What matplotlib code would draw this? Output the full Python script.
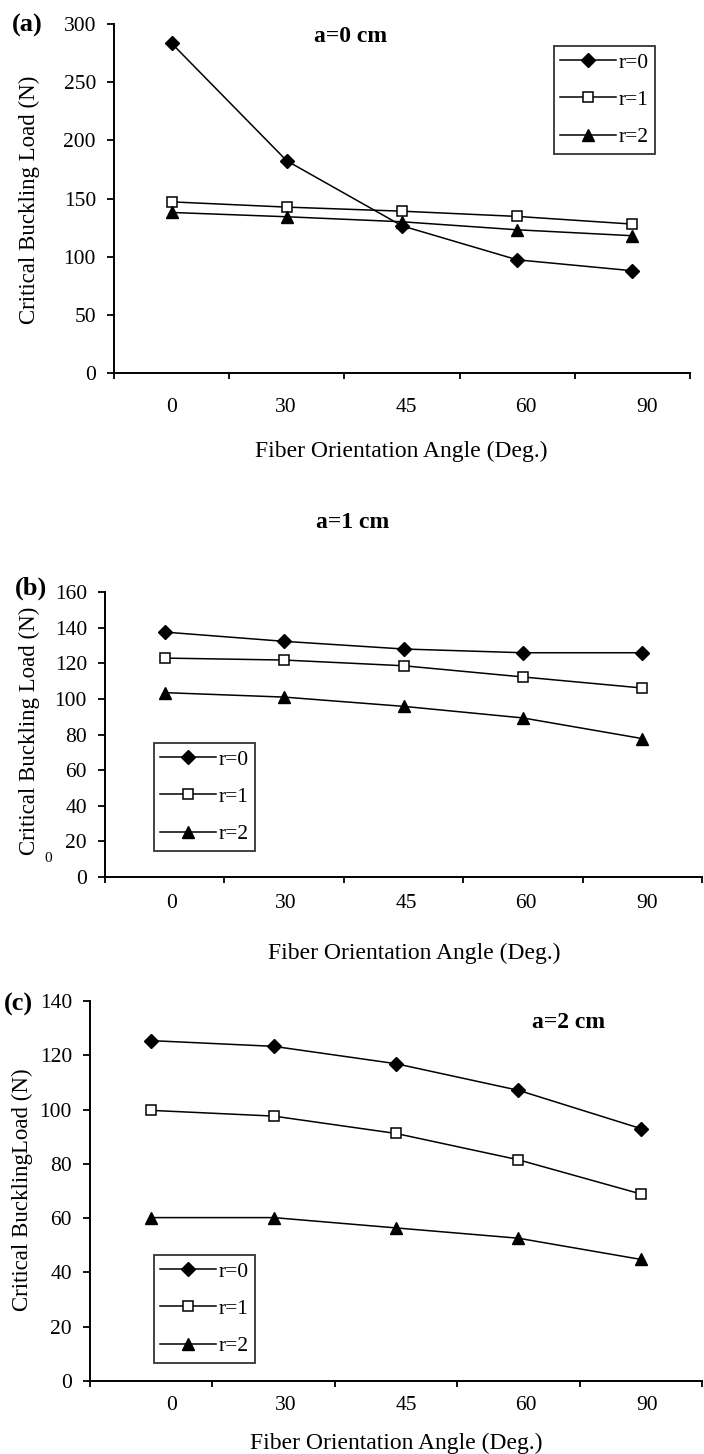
import numpy as np
import matplotlib
matplotlib.use("Agg")
import matplotlib.pyplot as plt

plt.rcParams["font.family"] = "serif"
plt.rcParams["font.serif"] = ["Liberation Serif", "DejaVu Serif"]
plt.rcParams["mathtext.fontset"] = "stix"

# fiber orientation angles (categories) and buckling loads in N
angles = ["0", "30", "45", "60", "90"]
series_names = ["r=0", "r=1", "r=2"]

load_a0 = {
    "r=0": [283.4, 182.4, 126.5, 97.3, 87.9],
    "r=1": [147.1, 142.6, 139.1, 134.6, 128.0],
    "r=2": [138.0, 134.3, 130.0, 123.1, 118.0],
}
load_a1 = {
    "r=0": [137.5, 132.3, 128.0, 125.9, 125.9],
    "r=1": [122.9, 121.8, 118.6, 112.3, 106.1],
    "r=2": [103.5, 101.0, 95.8, 89.3, 77.7],
}
load_a2 = {
    "r=0": [125.4, 123.3, 116.9, 107.1, 93.0],
    "r=1": [99.7, 97.6, 91.2, 81.5, 68.9],
    "r=2": [60.2, 60.2, 56.4, 52.6, 44.8],
}

W, H = 704, 1454
fig = plt.figure(figsize=(W / 100, H / 100), dpi=100)


def px_box(left, top, right, bottom):
    return [left / W, 1 - bottom / H, (right - left) / W, (bottom - top) / H]


def fx(x):
    return x / W


def fy(y):
    return 1 - y / H


styles = {
    "r=0": dict(marker="D", markersize=7, markerfacecolor="black",
                markeredgecolor="black"),
    "r=1": dict(marker="s", markersize=7.5, markerfacecolor="white",
                markeredgecolor="black", markeredgewidth=1.1),
    "r=2": dict(marker="^", markersize=9, markerfacecolor="black",
                markeredgecolor="black"),
}

# label positions under the x axis are shared by all three panels
label_x = [172, 286, 406, 526, 647]

panels = [
    dict(data=load_a0, box=(114, 24, 690, 373), ymax=300, ystep=50,
         tag="(a)", tag_xy=(27, 25), title="a=0 cm", title_xy=(351, 36),
         leg_xy=(554, 46), ylabel="Critical Buckling Load (N)", ylab_xy=(29, 200),
         tick_y=408, xlab_xy=(401, 451)),
    dict(data=load_a1, box=(105, 592, 702, 877), ymax=160, ystep=20,
         tag="(b)", tag_xy=(31, 588), title="a=1 cm", title_xy=(353, 523),
         leg_xy=(154, 743), ylabel="Critical Buckling Load (N)", ylab_xy=(29, 731),
         tick_y=903, xlab_xy=(414, 953)),
    dict(data=load_a2, box=(90, 1001, 702, 1381), ymax=140, ystep=20,
         tag="(c)", tag_xy=(18, 1004), title="a=2 cm", title_xy=(569, 1022),
         leg_xy=(154, 1255), ylabel="Critical BucklingLoad (N)", ylab_xy=(22, 1190),
         tick_y=1405, xlab_xy=(396, 1443)),
]

for p in panels:
    ax = fig.add_axes(px_box(*p["box"]))
    xpos = np.arange(len(angles)) + 0.5
    handles = []
    for name in series_names:
        h, = ax.plot(xpos, p["data"][name], color="black", lw=1.1,
                     label=name, **styles[name])
        handles.append(h)

    ax.set_xlim(0, len(angles))
    ax.set_ylim(0, p["ymax"])
    ax.set_xticks(np.arange(len(angles) + 1))
    ax.set_xticklabels([])
    ax.set_yticks(np.arange(0, p["ymax"] + 1, p["ystep"]))
    ax.tick_params(axis="y", direction="out", length=5, width=1.3,
                   labelsize=15.5, pad=8)
    ax.tick_params(axis="x", direction="out", length=4.5, width=1.3)
    ax.spines["top"].set_visible(False)
    ax.spines["right"].set_visible(False)
    for s in ("left", "bottom"):
        ax.spines[s].set_linewidth(1.4)
    ax.patch.set_alpha(0)

    for lx, lab in zip(label_x, angles):
        fig.text(fx(lx), fy(p["tick_y"]), lab, ha="center", va="center",
                 fontsize=15.5)

    fig.text(fx(p["xlab_xy"][0]), fy(p["xlab_xy"][1]),
             "Fiber Orientation Angle (Deg.)", ha="center", va="center",
             fontsize=17)
    fig.text(fx(p["ylab_xy"][0]), fy(p["ylab_xy"][1]), p["ylabel"],
             ha="center", va="center", rotation=90, fontsize=16.5)
    fig.text(fx(p["tag_xy"][0]), fy(p["tag_xy"][1]), p["tag"],
             ha="center", va="center", fontsize=19, fontweight="bold")
    fig.text(fx(p["title_xy"][0]), fy(p["title_xy"][1]), p["title"],
             ha="center", va="center", fontsize=17, fontweight="bold")

    leg = ax.legend(handles=handles, loc="upper left",
                    bbox_to_anchor=(fx(p["leg_xy"][0]), fy(p["leg_xy"][1])),
                    bbox_transform=fig.transFigure, borderaxespad=0,
                    fontsize=15.5, frameon=True, fancybox=False,
                    edgecolor="black", handlelength=2.6, handletextpad=0.1,
                    labelspacing=0.8, borderpad=0.3)
    leg.get_frame().set_linewidth(1.3)

# small stray zero left of panel (b)
fig.text(fx(48), fy(859), "0", ha="center", va="center", fontsize=11)

fig.savefig("out.png", dpi=100)
